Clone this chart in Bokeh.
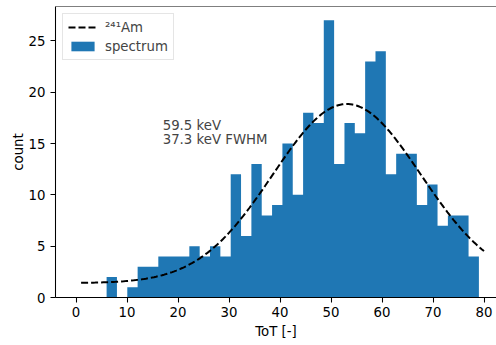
import numpy as np
from bokeh.plotting import figure
from bokeh.models import Range1d, Span, Label, Legend, LegendItem, FixedTicker
from bokeh.embed import file_html
from bokeh.resources import INLINE

# Histogram of ToT values: 36 equal bins between the data min and max
bin_lo = 6.0
bin_hi = 79.0
counts = [2, 0, 1, 3, 3, 4, 4, 4, 5, 4, 5, 4, 12, 6, 13, 8, 9, 15,
          10, 18, 17, 27, 13, 17, 16, 23, 24, 12, 14, 14, 9, 11, 7, 8, 8, 4]

# Gaussian + constant fit to the 241Am peak
fit_mu = 53.1
fit_sigma = 14.5
fit_amp = 17.45
fit_offset = 1.4
fit_x_lo = 1.0
fit_x_hi = 80.0

peak_text = ["59.5 keV", "37.3 keV FWHM"]
x_ticks = [0, 10, 20, 30, 40, 50, 60, 70, 80]
y_ticks = [0, 5, 10, 15, 20, 25]

FONT = "DejaVu Sans"
FS = "13.3px"
BLUE = "#1f77b4"

edges = np.linspace(bin_lo, bin_hi, len(counts) + 1)
step_y = list(counts) + [counts[-1]]
xf = np.linspace(fit_x_lo, fit_x_hi, 200)
yf = fit_offset + fit_amp * np.exp(-(xf - fit_mu) ** 2 / (2 * fit_sigma ** 2))

y_top = max(counts) * 1.05

p = figure(width=496, height=345, output_backend="svg", toolbar_location=None,
           x_range=Range1d(-4.02, 82.45), y_range=Range1d(0, y_top),
           min_border_left=55, min_border_right=0, min_border_top=6,
           min_border_bottom=48)
p.outline_line_color = None
p.grid.visible = False
p.background_fill_color = "white"
p.border_fill_color = "white"

# histogram drawn as one stepped area so adjacent bins join seamlessly
bars = p.varea_step(x=edges, y1=0, y2=step_y, step_mode="after",
                    fill_color=BLUE)
fit = p.line(xf, yf, line_color="black", line_width=2, line_dash="7 3")

for ax in (p.xaxis[0], p.yaxis[0]):
    ax.axis_line_color = "black"
    ax.axis_line_width = 1.05
    ax.major_tick_line_color = "black"
    ax.major_tick_line_width = 1.05
    ax.major_tick_out = 5
    ax.major_tick_in = 0
    ax.minor_tick_line_color = None
    ax.major_label_text_font = FONT
    ax.major_label_text_font_size = FS
    ax.major_label_text_color = "black"
    ax.axis_label_text_font = FONT
    ax.axis_label_text_font_size = FS
    ax.axis_label_text_font_style = "normal"
    ax.axis_label_text_color = "black"

p.xaxis.ticker = FixedTicker(ticks=x_ticks)
p.yaxis.ticker = FixedTicker(ticks=y_ticks)
p.xaxis.axis_label = "ToT [-]"
p.yaxis.axis_label = "count"
p.xaxis.major_label_standoff = 4
p.yaxis.major_label_standoff = 5
p.xaxis.axis_label_standoff = 4
p.yaxis.axis_label_standoff = 0

# top spine
p.add_layout(Span(location=y_top, dimension="width", line_color="black",
                  line_width=1.05))

# peak annotation
p.add_layout(Label(x=17, y=15, y_offset=4, text=peak_text[1], text_font=FONT,
                   text_font_size=FS, text_baseline="alphabetic"))
p.add_layout(Label(x=17, y=15, y_offset=18.5, text=peak_text[0], text_font=FONT,
                   text_font_size=FS, text_baseline="alphabetic"))

legend = Legend(items=[LegendItem(label="\u00b2\u2074\u00b9Am", renderers=[fit]),
                       LegendItem(label="spectrum", renderers=[bars])],
                location="top_left", margin=7, padding=5, spacing=3,
                glyph_width=29, glyph_height=12, label_height=16,
                label_standoff=8,
                label_text_font=FONT, label_text_font_size=FS,
                border_line_color="#cccccc", border_line_width=1,
                background_fill_alpha=0.8)
p.add_layout(legend)

open("out.html", "w").write(file_html(p, INLINE))
